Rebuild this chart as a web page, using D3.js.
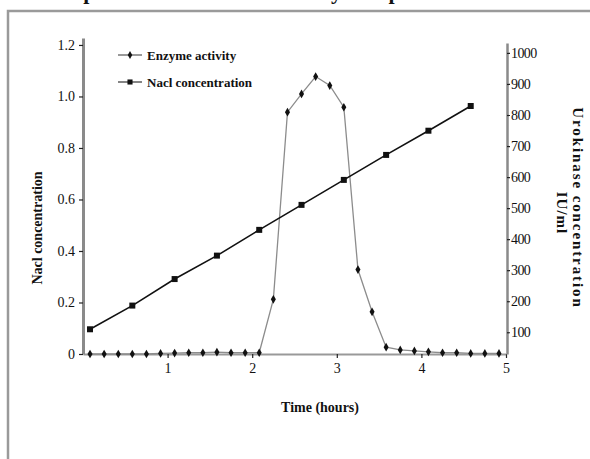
<!DOCTYPE html>
<html><head><meta charset="utf-8">
<script src="https://cdn.jsdelivr.net/npm/d3@7"></script>
<style>
body{margin:0;background:#fff}
svg{display:block}
text{font-family:"Liberation Serif","Times New Roman",serif;fill:#111}
</style>
</head><body>
<svg id="chart" width="590" height="459"></svg>
<script>
// ---- data ----
const enzymeTime = [0.083,0.25,0.417,0.583,0.75,0.917,1.083,1.25,1.417,1.583,1.75,1.917,2.083,2.25,2.417,2.583,2.75,2.917,3.083,3.25,3.417,3.583,3.75,3.917,4.083,4.25,4.417,4.583,4.75,4.917];
const enzymeActivity = [30,30,30,30,30,32,33,34,34,36,34,34,34,206,809,868,924,895,825,302,166,52,43,40,37,34,34,32,32,32];
const naclTime = [0.083,0.583,1.083,1.583,2.083,2.583,3.083,3.583,4.083,4.583];
const naclConc = [0.096,0.188,0.291,0.382,0.482,0.579,0.676,0.773,0.867,0.963];
const xTicks = [1,2,3,4,5];
const leftTicks = [0,0.2,0.4,0.6,0.8,1.0,1.2];
const leftTickLabels = ["0","0.2","0.4","0.6","0.8","1.0","1.2"];
const rightTicks = [100,200,300,400,500,600,700,800,900,1000];
const seriesNames = ["Enzyme activity","Nacl concentration"];
const titleText = "Elution profile of urokinase activity and protein";

const svg = d3.select("#chart");

// outer frame
svg.append("rect").attr("x",8).attr("y",11).attr("width",600).attr("height",470)
  .attr("fill","none").attr("stroke","#9a9a9a").attr("stroke-width",2.5);

// title, cut off by the top edge as in the reference (only descenders visible)
svg.append("text").attr("x",8).attr("y",-1).attr("font-size",22).attr("font-weight","bold")
  .text(titleText);

const x = d3.scaleLinear().domain([0,5]).range([83,506]);
const yL = d3.scaleLinear().domain([0,1.227]).range([354,38]);
const yR = d3.scaleLinear().domain([30,1032]).range([354,43]);

// axes
const gx = svg.append("g").attr("transform","translate(0,354)")
  .call(d3.axisBottom(x).tickValues(xTicks).tickFormat(d3.format("d")).tickSize(4).tickPadding(5).tickSizeOuter(0));
const gl = svg.append("g").attr("transform","translate(83,0)")
  .call(d3.axisLeft(yL).tickValues(leftTicks).tickFormat((d,i)=>leftTickLabels[i]).tickSize(4).tickPadding(4).tickSizeOuter(0));
const gr = svg.append("g").attr("transform","translate(507,0)")
  .call(d3.axisRight(yR).tickValues(rightTicks).tickFormat(d3.format("d")).tickSize(3).tickPadding(1).tickSizeOuter(0));

[gx,gl,gr].forEach(g=>{
  g.selectAll("text").attr("font-family","Liberation Serif, serif").attr("font-size",14).attr("fill","#000");
  g.selectAll(".tick line").attr("stroke","#222").attr("stroke-width",1.2);
});
gx.select(".domain").attr("stroke","#999").attr("stroke-width",2.2);
gl.select(".domain").attr("stroke","#8a8a8a").attr("stroke-width",3);
gr.select(".domain").attr("stroke","#8a8a8a").attr("stroke-width",2.5);
gr.selectAll("text").attr("letter-spacing",-0.6);

// enzyme activity series (right axis)
const enzData = enzymeTime.map((t,i)=>[t,enzymeActivity[i]]);
svg.append("path").datum(enzData)
  .attr("d",d3.line().x(d=>x(d[0])).y(d=>yR(d[1])))
  .attr("fill","none").attr("stroke","#8c8c8c").attr("stroke-width",1.3);
svg.append("g").selectAll("path").data(enzData).join("path")
  .attr("transform",d=>`translate(${x(d[0])},${yR(d[1])})`)
  .attr("d",d3.symbol(d3.symbolDiamond,22)).attr("fill","#111");

// NaCl series (left axis)
const naclData = naclTime.map((t,i)=>[t,naclConc[i]]);
svg.append("path").datum(naclData)
  .attr("d",d3.line().x(d=>x(d[0])).y(d=>yL(d[1])))
  .attr("fill","none").attr("stroke","#111").attr("stroke-width",1.6);
svg.append("g").selectAll("path").data(naclData).join("path")
  .attr("transform",d=>`translate(${x(d[0])},${yL(d[1])})`)
  .attr("d",d3.symbol(d3.symbolSquare,36)).attr("fill","#111");

// legend
const legY = [55,82];
const leg = svg.append("g");
seriesNames.forEach((name,i)=>{
  leg.append("line").attr("x1",118).attr("x2",142).attr("y1",legY[i]).attr("y2",legY[i])
    .attr("stroke",i===0?"#555":"#333").attr("stroke-width",1.2);
  leg.append("path").attr("transform",`translate(130,${legY[i]})`)
    .attr("d",d3.symbol(i===0?d3.symbolDiamond:d3.symbolSquare,i===0?18:26)).attr("fill","#111");
  leg.append("text").attr("x",147).attr("y",legY[i]+4.5).attr("font-size",13).attr("font-weight","bold")
    .text(name);
});

// axis titles
svg.append("text").attr("transform","translate(320,412)").attr("text-anchor","middle")
  .attr("font-size",14).attr("font-weight","bold").text("Time (hours)");
svg.append("text").attr("transform","translate(42,228) rotate(-90)").attr("text-anchor","middle")
  .attr("font-size",14).attr("font-weight","bold").text("Nacl concentration");
svg.append("text").attr("transform","translate(573,208) rotate(90)").attr("text-anchor","middle")
  .attr("font-size",15).attr("font-weight","bold").attr("letter-spacing",1.9).text("Urokinase concentration");
svg.append("text").attr("transform","translate(557,213) rotate(90)").attr("text-anchor","middle")
  .attr("font-size",15).attr("font-weight","bold").attr("letter-spacing",1).text("IU/ml");
</script>
</body></html>
